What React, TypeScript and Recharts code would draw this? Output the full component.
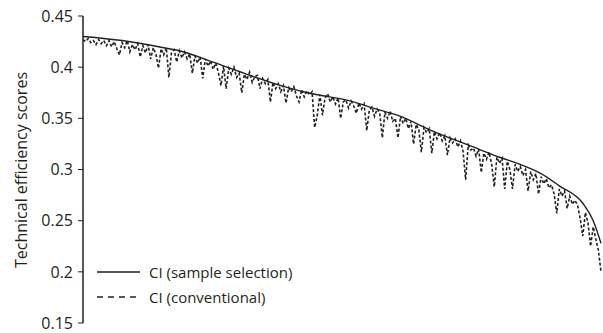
import React from 'react';
import { LineChart, Line, XAxis, YAxis, Label } from 'recharts';

// y axis ticks
const yTicks = [0.15, 0.2, 0.25, 0.3, 0.35, 0.4, 0.45];

// CI (sample selection): smooth ranked curve, read at rank positions
const solidRank = [0, 15, 31, 37, 50, 63, 76, 88, 101, 114, 122, 133, 152, 160, 168, 176, 183, 192, 196, 199];
const solidScore = [0.43, 0.426, 0.419, 0.416, 0.405, 0.393, 0.382, 0.374, 0.368, 0.358, 0.352, 0.339, 0.32, 0.312, 0.305, 0.296, 0.284, 0.267, 0.25, 0.228];

// CI (conventional): one value per rank 0..199
const conventionalScore = [
  0.427, 0.425, 0.428, 0.424, 0.426, 0.422, 0.427, 0.423, 0.426, 0.421,
  0.426, 0.42, 0.425, 0.418, 0.412, 0.424, 0.419, 0.426, 0.415, 0.422,
  0.417, 0.423, 0.41, 0.421, 0.414, 0.422, 0.408, 0.419, 0.413, 0.399,
  0.418, 0.412, 0.419, 0.39, 0.414, 0.417, 0.405, 0.416, 0.409, 0.415,
  0.408, 0.413, 0.394, 0.411, 0.404, 0.41, 0.389, 0.408, 0.401, 0.406,
  0.398, 0.404, 0.395, 0.382, 0.401, 0.379, 0.399, 0.393, 0.4, 0.39,
  0.394, 0.375, 0.393, 0.388, 0.395, 0.385, 0.391, 0.392, 0.379, 0.389,
  0.384, 0.388, 0.366, 0.385, 0.379, 0.384, 0.376, 0.382, 0.365, 0.38,
  0.376, 0.381, 0.372, 0.366, 0.378, 0.371, 0.377, 0.373, 0.376, 0.341,
  0.353, 0.373, 0.353, 0.37, 0.374, 0.366, 0.371, 0.364, 0.37, 0.35,
  0.366, 0.368, 0.36, 0.367, 0.362, 0.355, 0.365, 0.359, 0.364, 0.338,
  0.358, 0.361, 0.352, 0.359, 0.355, 0.331, 0.356, 0.35, 0.357, 0.347,
  0.35, 0.331, 0.352, 0.345, 0.35, 0.34, 0.347, 0.325, 0.344, 0.339,
  0.317, 0.341, 0.336, 0.34, 0.316, 0.337, 0.33, 0.336, 0.328, 0.333,
  0.314, 0.331, 0.326, 0.33, 0.322, 0.328, 0.318, 0.29, 0.324, 0.319,
  0.321, 0.313, 0.32, 0.297, 0.316, 0.31, 0.317, 0.305, 0.283, 0.312,
  0.306, 0.311, 0.281, 0.308, 0.3, 0.281, 0.305, 0.298, 0.303, 0.294,
  0.3, 0.279, 0.298, 0.29, 0.296, 0.276, 0.293, 0.286, 0.291, 0.282,
  0.285, 0.276, 0.257, 0.281, 0.274, 0.279, 0.262, 0.274, 0.266, 0.27,
  0.265, 0.252, 0.235, 0.258, 0.248, 0.225, 0.244, 0.232, 0.221, 0.2,
];

const solidData = solidRank.map((rank, i) => ({ rank, score: solidScore[i] }));
const conventionalData = conventionalScore.map((score, rank) => ({ rank, score }));

const font = '"Open Sans", sans-serif';
const ink = '#231f20';

const fmt = (v: number) => String(Number(v.toFixed(2)));

const LegendBox = () => (
  <svg width={230} height={50} style={{ display: 'block' }}>
    <line x1={2} y1={12} x2={45} y2={12} stroke={ink} strokeWidth={1.3} />
    <text x={54} y={12} dominantBaseline="central" fontFamily={font} fontSize={15} fill={ink}>
      CI (sample selection)
    </text>
    <line x1={2} y1={37} x2={45} y2={37} stroke={ink} strokeWidth={1.3} strokeDasharray="6 5" />
    <text x={54} y={37} dominantBaseline="central" fontFamily={font} fontSize={15} fill={ink}>
      CI (conventional)
    </text>
  </svg>
);

const App: React.FC = () => {
  return (
    <div style={{ position: 'absolute', left: 0, top: 0, width: 603, height: 333, background: '#fff' }}>
      <LineChart width={603} height={333} margin={{ top: 16, right: 2, bottom: 10, left: 0 }}>
        <XAxis
          type="number"
          dataKey="rank"
          domain={[0, 199]}
          tick={false}
          tickLine={false}
          height={0}
          axisLine={{ stroke: ink, strokeWidth: 1.5 }}
        />
        <YAxis
          type="number"
          width={83}
          domain={[0.15, 0.45]}
          ticks={yTicks}
          tickFormatter={fmt}
          tickSize={5}
          tickMargin={5}
          axisLine={{ stroke: ink, strokeWidth: 1.5 }}
          tickLine={{ stroke: ink, strokeWidth: 1 }}
          tick={{ fill: ink, fontSize: 16, fontFamily: font }}
        >
          <Label
            content={() => (
              <text
                x={21}
                y={170}
                transform="rotate(-90, 21, 170)"
                textAnchor="middle"
                dominantBaseline="central"
                fontFamily={font}
                fontSize={16}
                fill={ink}
              >
                Technical efficiency scores
              </text>
            )}
          />
        </YAxis>
        <Line
          data={conventionalData}
          dataKey="score"
          type="linear"
          stroke={ink}
          strokeWidth={1.6}
          strokeDasharray="3 2"
          dot={false}
          isAnimationActive={false}
        />
        <Line
          data={solidData}
          dataKey="score"
          type="monotone"
          stroke={ink}
          strokeWidth={1.4}
          dot={false}
          isAnimationActive={false}
        />
      </LineChart>
      <div style={{ position: 'absolute', left: 95, top: 260 }}>
        <LegendBox />
      </div>
    </div>
  );
};

export default App;
